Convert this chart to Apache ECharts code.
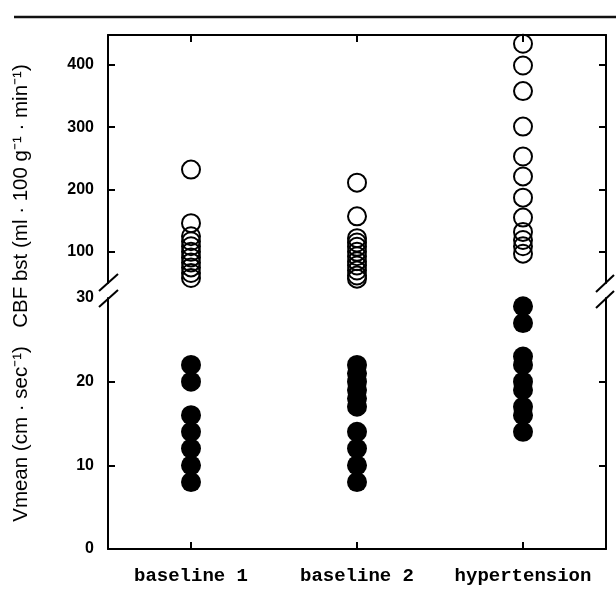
<!DOCTYPE html>
<html>
<head>
<meta charset="utf-8">
<script src="https://cdn.jsdelivr.net/npm/echarts@6/dist/echarts.min.js"></script>
<style>
  html, body { margin: 0; padding: 0; background: #fff; }
  #chart { width: 616px; height: 589px; }
</style>
</head>
<body>
<div id="chart"></div>
<script>
const categories = ['baseline 1', 'baseline 2', 'hypertension'];

// CBF bst (open circles, upper panel)
const cbfBaseline1 = [232, 146, 125, 117, 109, 100, 91, 83, 75, 66, 58];
const cbfBaseline2 = [211, 157, 122, 115, 108, 100, 93, 85, 78, 70, 62, 57];
const cbfHypertension = [434, 399, 358, 301, 253, 221, 187, 155, 132, 119, 109, 97];

// Vmean (filled circles, lower panel)
const vBaseline1 = [22, 20, 16, 14, 12, 10, 8];
const vBaseline2 = [22, 21, 20, 19, 18, 17, 14, 12, 10, 8];
const vHypertension = [29, 27, 23, 22, 20, 19, 17, 16, 14];

const cbfTicks = [100, 200, 300, 400];
const vTicks = [0, 10, 20, 30];

const toPoints = groups => {
  const out = [];
  groups.forEach((vals, i) => vals.forEach(v => out.push([i, v])));
  return out;
};

const black = '#000';
const line = { show: true, lineStyle: { color: black, width: 2 } };
const tick = { show: true, inside: true, length: 7, lineStyle: { color: black, width: 2 } };
const labelFont = { color: black, fontFamily: 'Liberation Sans, Arial, sans-serif', fontSize: 16, fontWeight: 'bold' };
const titleFont = '20.5px "Liberation Sans", Arial, sans-serif';

const chart = echarts.init(document.getElementById('chart'));

chart.setOption({
  animation: false,
  backgroundColor: '#fff',
  grid: [
    { left: 108, right: 10, top: 35, height: 248 },
    { left: 108, right: 10, top: 298, bottom: 40 },
  ],
  xAxis: [
    {
      gridIndex: 0,
      type: 'category',
      data: categories,
      position: 'top',
      axisLine: line,
      axisTick: Object.assign({ alignWithLabel: true }, tick),
      axisLabel: { show: false },
      splitLine: { show: false },
    },
    {
      gridIndex: 1,
      type: 'category',
      data: categories,
      position: 'bottom',
      axisLine: line,
      axisTick: Object.assign({ alignWithLabel: true }, tick),
      axisLabel: {
        interval: 0,
        hideOverlap: false,
        margin: 18,
        color: black,
        fontFamily: 'Liberation Mono, DejaVu Sans Mono, monospace',
        fontWeight: 'bold',
        fontSize: 19,
      },
      splitLine: { show: false },
    },
  ],
  yAxis: [
    {
      gridIndex: 0,
      type: 'value',
      min: 50,
      max: 448,
      position: 'left',
      axisLine: line,
      axisTick: Object.assign({ customValues: cbfTicks }, tick),
      axisLabel: Object.assign({ customValues: cbfTicks, margin: 14 }, labelFont),
      splitLine: { show: false },
    },
    {
      gridIndex: 0,
      type: 'value',
      min: 50,
      max: 448,
      position: 'right',
      axisLine: line,
      axisTick: Object.assign({ customValues: cbfTicks }, tick),
      axisLabel: { show: false },
      splitLine: { show: false },
    },
    {
      gridIndex: 1,
      type: 'value',
      min: 0,
      max: 30,
      position: 'left',
      axisLine: line,
      axisTick: Object.assign({ customValues: [10, 20] }, tick),
      axisLabel: Object.assign({ customValues: vTicks, margin: 14 }, labelFont),
      splitLine: { show: false },
    },
    {
      gridIndex: 1,
      type: 'value',
      min: 0,
      max: 30,
      position: 'right',
      axisLine: line,
      axisTick: Object.assign({ customValues: [10, 20] }, tick),
      axisLabel: { show: false },
      splitLine: { show: false },
    },
  ],
  series: [
    {
      name: 'CBF bst',
      type: 'scatter',
      xAxisIndex: 0,
      yAxisIndex: 0,
      clip: false,
      symbol: 'circle',
      symbolSize: 18,
      itemStyle: { color: 'rgba(0,0,0,0)', borderColor: black, borderWidth: 2, opacity: 1 },
      data: toPoints([cbfBaseline1, cbfBaseline2, cbfHypertension]),
    },
    {
      name: 'Vmean',
      type: 'scatter',
      xAxisIndex: 1,
      yAxisIndex: 2,
      clip: false,
      symbol: 'circle',
      symbolSize: 20,
      itemStyle: { color: black, opacity: 1 },
      data: toPoints([vBaseline1, vBaseline2, vHypertension]),
    },
  ],
  graphic: [
    // rule above the figure
    { type: 'line', shape: { x1: 14, y1: 17, x2: 616, y2: 17 }, style: { stroke: '#111', lineWidth: 2.5 } },
    // axis break marks
    { type: 'line', shape: { x1: 99, y1: 291, x2: 118, y2: 274 }, style: { stroke: black, lineWidth: 2 } },
    { type: 'line', shape: { x1: 99, y1: 307, x2: 118, y2: 290 }, style: { stroke: black, lineWidth: 2 } },
    { type: 'line', shape: { x1: 596, y1: 292, x2: 614, y2: 275 }, style: { stroke: black, lineWidth: 2 } },
    { type: 'line', shape: { x1: 596, y1: 308, x2: 614, y2: 291 }, style: { stroke: black, lineWidth: 2 } },
    // y-axis titles
    {
      type: 'text',
      x: 21,
      y: 196,
      rotation: Math.PI / 2,
      style: { text: 'CBF bst (ml · 100 g⁻¹ · min⁻¹)', fill: black, font: titleFont, align: 'center', verticalAlign: 'middle' },
    },
    {
      type: 'text',
      x: 21,
      y: 434,
      rotation: Math.PI / 2,
      style: { text: 'Vmean (cm · sec⁻¹)', fill: black, font: titleFont, align: 'center', verticalAlign: 'middle' },
    },
  ],
});
</script>
</body>
</html>
